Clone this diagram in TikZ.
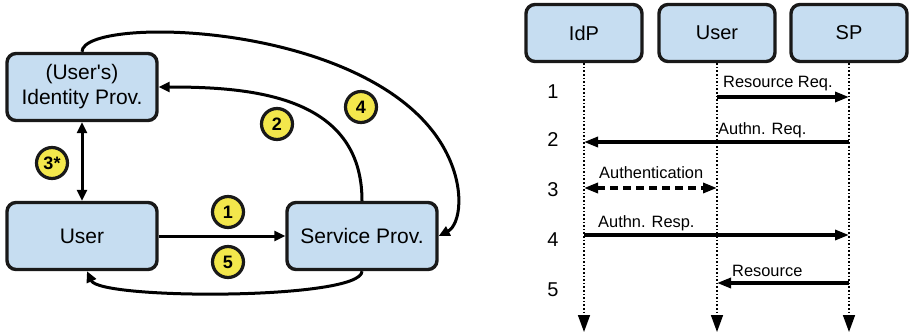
\documentclass[tikz,border=0pt]{standalone}
\usepackage{fontspec}
\setmainfont{Liberation Sans}
\usetikzlibrary{arrows.meta,positioning}
\definecolor{boxblue}{HTML}{C6DDF1}
\definecolor{badgeyellow}{HTML}{F3E74C}

\tikzset{
  party/.style={draw=black!90, line width=3.4pt, rounded corners=9pt, fill=boxblue,
    minimum width=150pt, minimum height=67pt, align=center, font=\fontsize{21}{25}\selectfont},
  head/.style={party, minimum width=116pt, minimum height=57pt, font=\fontsize{20}{24}\selectfont},
  badge/.style={circle, draw=black!90, line width=3.2pt, fill=badgeyellow, minimum size=31pt,
    inner sep=0pt, font=\fontsize{18}{18}\selectfont\bfseries},
  flow/.style={line width=3pt, -{Triangle[length=11pt,width=10pt]}},
  life/.style={line width=1.6pt, dotted, -{Triangle[length=17pt,width=12pt]}},
  msg/.style={line width=3.2pt, -{Triangle[length=14pt,width=10pt]}},
  lbl/.style={font=\fontsize{16.4}{18}\selectfont, inner sep=0pt},
  stepnum/.style={font=\fontsize{20}{22}\selectfont, inner sep=0pt}
}

\begin{document}
\begin{tikzpicture}[x=1pt,y=-1pt]
\useasboundingbox (0,0) rectangle (910,334);

% left: parties
\node[party] (idp) at (82,87) {(User\textquotesingle s)\\Identity Prov.};
\node[party] (user) at (82,236) {User};
\node[party] (sp) at (362,236) {Service Prov.};

% left: flows
\draw[flow] (user) -- (sp);
\draw[flow, {Triangle[length=11pt,width=10pt]}-{Triangle[length=11pt,width=10pt]}] (idp) -- (user);
\draw[flow] (sp.north) .. controls (362,95) and (250,87) .. (idp.east);
\draw[flow] (idp.north) .. controls (82,15) and (375,20) .. (445,150)
  .. controls (466,189) and (460,225) .. (sp.east);
\draw[flow] (sp.south) .. controls (362,300) and (100,300) .. ([xshift=5pt]user.south);

% left: badges
\node[badge] (b1) at (228,212) {1};
\node[badge] (b2) at (277,124) {2};
\node[badge] (b3) at (52,163) {3*};
\node[badge] (b4) at (361,107) {4};
\node[badge] (b5) at (228,262) {5};

% right: heads and lifelines
\node[head] (hidp) at (584,33) {IdP};
\node[head] (huser) at (717,33) {User};
\node[head] (hsp) at (849,33) {SP};
\coordinate (eidp) at (584,332);
\coordinate (euser) at (717,332);
\coordinate (esp) at (849,332);
\draw[life] (hidp) -- (eidp);
\draw[life] (huser) -- (euser);
\draw[life] (hsp) -- (esp);

\foreach \k/\y in {1/97,2/142,3/188,4/235,5/283}{
  \coordinate (i\k) at (584,\y);
  \coordinate (u\k) at (717,\y);
  \coordinate (s\k) at (849,\y);
}

% right: messages
\draw[msg] (u1) -- (s1);
\draw[msg] (s2) -- (i2);
\draw[msg, {Triangle[length=14pt,width=10pt]}-{Triangle[length=14pt,width=10pt]}, dash pattern=on 8pt off 5pt] (i3) -- (u3);
\draw[msg] (i4) -- (s4);
\draw[msg] (s5) -- (u5);

\node[lbl, anchor=west] (l1) at (723,84) {Resource Req.};
\node[lbl, anchor=west] (l2) at (718,130) {Authn. Req.};
\node[lbl, anchor=west] (l3) at (599,173) {Authentication};
\node[lbl, anchor=west] (l4) at (598,223) {Authn. Resp.};
\node[lbl, anchor=west] (l5) at (732,271) {Resource};

% right: step numbers
\node[stepnum] (n1) at (553,92) {1};
\node[stepnum] (n2) at (553,140) {2};
\node[stepnum] (n3) at (553,190) {3};
\node[stepnum] (n4) at (553,240) {4};
\node[stepnum] (n5) at (553,290) {5};
\end{tikzpicture}
\end{document}
